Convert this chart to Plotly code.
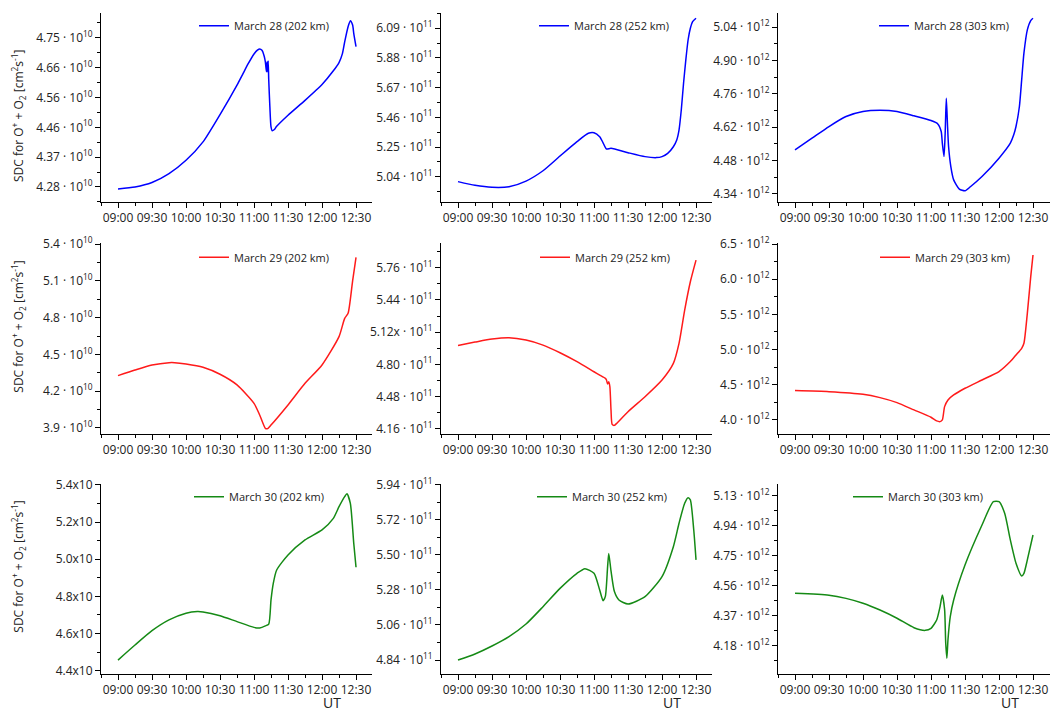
import plotly.graph_objects as go

W, H = 1050, 711

# ---------------- data (UT, SDC mantissa) ----------------
t_28_202 = ["09:00","09:15","09:30","09:45","10:00","10:15","10:30","10:45","10:50","10:55","11:00","11:03","11:05","11:07","11:09","11:10","11:11","11:11:30","11:12","11:12:30","11:13","11:14","11:15","11:16","11:18","11:20","11:30","11:45","12:00","12:10","12:15","12:18","12:20","12:23","12:25","12:27","12:28","12:30"]
v_28_202 = [4.274,4.280,4.294,4.322,4.364,4.422,4.508,4.601,4.635,4.669,4.699,4.711,4.715,4.711,4.692,4.674,4.643,4.674,4.643,4.677,4.616,4.532,4.469,4.457,4.461,4.471,4.506,4.553,4.603,4.646,4.672,4.700,4.737,4.785,4.804,4.790,4.764,4.722]

t_28_252 = ["09:00","09:15","09:30","09:45","10:00","10:15","10:30","10:45","10:55","11:00","11:05","11:08","11:11","11:15","11:30","11:45","11:55","12:00","12:05","12:10","12:13","12:15","12:17","12:19","12:21","12:23","12:25","12:27","12:30"]
v_28_252 = [5.005,4.979,4.965,4.969,5.009,5.082,5.186,5.288,5.347,5.351,5.323,5.280,5.236,5.241,5.210,5.182,5.175,5.182,5.205,5.252,5.300,5.370,5.512,5.701,5.866,6.007,6.090,6.137,6.161]

t_28_303 = ["09:00","09:15","09:30","09:45","10:00","10:15","10:30","10:45","11:00","11:06","11:09","11:10","11:11:30","11:12:30","11:13:30","11:14:30","11:15:30","11:17:30","11:20","11:25","11:30","11:35","11:45","12:00","12:10","12:13","12:15","12:18","12:20","12:22","12:25","12:28","12:30"]
v_28_303 = [4.525,4.574,4.623,4.665,4.686,4.691,4.686,4.668,4.648,4.634,4.602,4.553,4.497,4.595,4.742,4.637,4.539,4.455,4.399,4.360,4.353,4.371,4.413,4.490,4.553,4.588,4.623,4.707,4.819,4.931,5.029,5.068,5.078]

t_29_202 = ["09:00","09:15","09:30","09:45","09:50","10:00","10:15","10:30","10:45","11:00","11:05","11:10","11:12","11:15","11:30","11:45","12:00","12:15","12:20","12:23","12:27","12:30"]
v_29_202 = [4.327,4.373,4.414,4.433,4.433,4.422,4.395,4.338,4.251,4.101,4.006,3.897,3.895,3.924,4.088,4.264,4.414,4.645,4.794,4.835,5.100,5.291]

t_29_252 = ["09:00","09:15","09:30","09:45","10:00","10:15","10:30","10:45","11:00","11:05","11:10","11:11","11:12","11:13","11:14","11:15","11:16","11:18","11:20","11:30","11:45","12:00","12:10","12:15","12:20","12:25","12:30"]
v_29_252 = [4.988,5.021,5.051,5.064,5.041,4.991,4.915,4.826,4.726,4.693,4.660,4.644,4.604,4.627,4.577,4.345,4.203,4.193,4.213,4.329,4.478,4.644,4.809,5.008,5.339,5.621,5.836]

t_29_303 = ["09:00","09:30","10:00","10:15","10:30","10:45","11:00","11:05","11:08","11:10","11:12","11:15","11:20","11:30","11:45","12:00","12:10","12:15","12:20","12:22","12:25","12:28","12:30"]
v_29_303 = [4.417,4.402,4.365,4.317,4.246,4.142,4.038,3.986,3.976,4.000,4.189,4.284,4.355,4.450,4.568,4.687,4.829,4.923,5.018,5.089,5.515,6.036,6.344]

t_30_202 = ["09:00","09:15","09:30","09:45","10:00","10:10","10:15","10:30","10:45","11:00","11:05","11:10","11:13","11:15","11:17","11:20","11:30","11:45","12:00","12:10","12:15","12:20","12:22","12:25","12:28","12:30"]
v_30_202 = [4.457,4.538,4.615,4.673,4.709,4.718,4.716,4.696,4.664,4.633,4.630,4.641,4.651,4.781,4.870,4.942,5.023,5.104,5.158,5.220,5.283,5.337,5.352,5.301,5.086,4.957]

t_30_252 = ["09:00","09:15","09:30","09:45","10:00","10:15","10:30","10:45","10:52","11:00","11:05","11:08","11:10","11:12","11:13","11:15","11:18","11:22","11:30","11:45","12:00","12:10","12:15","12:20","12:23","12:25","12:28","12:30"]
v_30_252 = [4.840,4.878,4.928,4.987,5.066,5.175,5.290,5.385,5.414,5.385,5.280,5.213,5.240,5.427,5.510,5.400,5.270,5.217,5.192,5.238,5.364,5.552,5.699,5.825,5.860,5.846,5.657,5.469]

t_30_303 = ["09:00","09:30","09:45","10:00","10:15","10:30","10:45","10:55","11:00","11:05","11:08","11:10","11:12","11:13","11:14","11:15","11:17","11:20","11:30","11:45","11:55","12:00","12:05","12:10","12:15","12:20","12:22","12:25","12:30"]
v_30_303 = [4.512,4.500,4.480,4.449,4.406,4.354,4.294,4.277,4.290,4.343,4.428,4.502,4.410,4.195,4.100,4.220,4.364,4.470,4.692,4.946,5.094,5.094,5.020,4.851,4.703,4.622,4.639,4.724,4.882]

# tick labels
x_ticklabels = ["09:00","09:30","10:00","10:30","11:00","11:30","12:00","12:30"]
yt_28_202 = ["4.28","4.37","4.46","4.56","4.66","4.75"]
yt_28_252 = ["5.04","5.25","5.46","5.67","5.88","6.09"]
yt_28_303 = ["4.34","4.48","4.62","4.76","4.90","5.04"]
yt_29_202 = ["3.9","4.2","4.5","4.8","5.1","5.4"]
yt_29_252 = ["4.16","4.48","4.80","5.12x","5.44","5.76"]
yt_29_303 = ["4.0","4.5","5.0","5.5","6.0","6.5"]
yt_30_202 = ["4.4","4.6","4.8","5.0","5.2","5.4"]
yt_30_252 = ["4.84","5.06","5.28","5.50","5.72","5.94"]
yt_30_303 = ["4.18","4.37","4.56","4.75","4.94","5.13"]

legend_names = ["March 28 (202 km)","March 28 (252 km)","March 28 (303 km)",
                "March 29 (202 km)","March 29 (252 km)","March 29 (303 km)",
                "March 30 (202 km)","March 30 (252 km)","March 30 (303 km)"]

# ---------------- styling / layout ----------------
def mins(t):
    p = [int(s) for s in t.split(":")]
    return (p[0] - 9) * 60 + p[1] + (p[2] / 60 if len(p) > 2 else 0)

BLUE, RED, GREEN = "#0000ff", "#ff1a1a", "#158a15"
FONT = "Open Sans"

panels = [
    (t_28_202, v_28_202, 1e10, yt_28_202, 0.094, (4.2327, 4.829), BLUE, "·"),
    (t_28_252, v_28_252, 1e11, yt_28_252, 0.21, (4.861, 6.200), BLUE, "·"),
    (t_28_303, v_28_303, 1e12, yt_28_303, 0.14, (4.306, 5.101), BLUE, "·"),
    (t_29_202, v_29_202, 1e10, yt_29_202, 0.3, (3.851, 5.406), RED, "·"),
    (t_29_252, v_29_252, 1e11, yt_29_252, 0.32, (4.107, 6.003), RED, "·"),
    (t_29_303, v_29_303, 1e12, yt_29_303, 0.5, (3.80, 6.51), RED, "·"),
    (t_30_202, v_30_202, 1e10, yt_30_202, 0.2, (4.382, 5.405), GREEN, "x"),
    (t_30_252, v_30_252, 1e11, yt_30_252, 0.22, (4.752, 5.946), GREEN, "·"),
    (t_30_303, v_30_303, 1e12, yt_30_303, 0.19, (4.00, 5.206), GREEN, "·"),
]
exps = {1e10: "10", 1e11: "11", 1e12: "12"}

cols_px = [(101, 372), (441, 712), (778, 1050)]
rows_px = [(12.7, 202), (243.3, 434), (484, 674)]
xr = [(-15, 224.1), (-15, 224.1), (-15, 225)]
leg_px = [(200, 25.7), (540, 25.7), (880, 25.7),
          (200, 257.3), (541, 257.3), (881, 257.3),
          (195, 496.7), (538, 496.7), (854, 496.7)]

fig = go.Figure()
layout = dict(width=W, height=H, margin=dict(l=0, r=0, t=0, b=0, autoexpand=False),
              paper_bgcolor="white", plot_bgcolor="white",
              font=dict(family=FONT, size=12, color="#222"),
              showlegend=True)

tickfont = dict(family=FONT, size=12, color="#222")
for k, (ts, vs, sc, ytl, step, yrng, col, sep) in enumerate(panels):
    i = k + 1
    r, c = divmod(k, 3)
    x0, x1 = cols_px[c]
    yt0, yb0 = rows_px[r]
    xd = [x0 / W, min(x1 / W, 1.0)]
    yd = [1 - yb0 / H, 1 - yt0 / H]
    base = float(ytl[0].rstrip("x"))
    tv = [(base + j * step) * sc for j in range(len(ytl))]
    if sep == "x":
        tt = [s + "x10" for s in ytl]
    else:
        tt = [s + " · 10<sup>%s</sup>" % exps[sc] for s in ytl]
    xv = [mins(t) for t in ts]
    yv = [v * sc for v in vs]
    xs = "" if i == 1 else str(i)
    lg = "legend" + xs
    fig.add_trace(go.Scatter(x=xv, y=yv, mode="lines", name=legend_names[k],
                             line=dict(color=col, width=1.5, shape="spline", smoothing=0.6),
                             xaxis="x" + xs, yaxis="y" + xs, legend=lg, showlegend=True))
    common_x = dict(range=list(xr[c]), tickmode="array", tickvals=[j * 30 for j in range(8)],
                    ticktext=x_ticklabels, showline=True, linecolor="black", linewidth=1,
                    showgrid=False, zeroline=False, ticklen=5, tickcolor="black", tickwidth=1,
                    minor=dict(tickmode="linear", tick0=-15, dtick=15, ticklen=3,
                               tickcolor="black", ticks="outside"),
                    tickfont=tickfont, fixedrange=True, automargin=False,
                    ticklabeloverflow="allow")
    common_y = dict(range=[yrng[0] * sc, yrng[1] * sc], tickmode="array", tickvals=tv, ticktext=tt,
                    showline=True, linecolor="black", linewidth=1, showgrid=False, zeroline=False,
                    ticklen=5, tickcolor="black", tickwidth=1,
                    minor=dict(tickmode="linear", tick0=tv[0], dtick=step * sc / 2, ticklen=3,
                               tickcolor="black", ticks="outside"),
                    tickfont=tickfont, fixedrange=True, automargin=False,
                    ticklabeloverflow="allow")
    layout["xaxis" + xs] = dict(common_x, domain=xd, anchor="y" + xs, ticks="outside", side="bottom")
    layout["yaxis" + xs] = dict(common_y, domain=yd, anchor="x" + xs, ticks="outside", side="left")
    # mirrored top / right axes with inside ticks
    j = i + 9
    top = dict(common_x, overlaying="x" + xs, anchor="y" + xs, side="top", ticks="inside",
               showticklabels=False)
    top["minor"] = dict(top["minor"], ticks="inside")
    right = dict(common_y, overlaying="y" + xs, anchor="x" + xs, side="right", ticks="inside",
                 showticklabels=False)
    right["minor"] = dict(right["minor"], ticks="inside")
    layout["xaxis%d" % j] = top
    layout["yaxis%d" % j] = right
    lx, ly = leg_px[k]
    layout[lg] = dict(x=(lx - 6) / W, y=1 - ly / H, xanchor="left", yanchor="middle",
                      bgcolor="rgba(0,0,0,0)", borderwidth=0, itemwidth=30,
                      font=dict(family=FONT, size=11, color="#222"))

ann = []
ytitle = "SDC for O<sup>+</sup> + O<sub>2</sub> [cm<sup>2</sup>s<sup>-1</sup>]"
for yc in [116, 326.7, 566.7]:
    ann.append(dict(text=ytitle, x=19 / W, y=1 - yc / H, xref="paper", yref="paper",
                    textangle=-90, showarrow=False, font=dict(family=FONT, size=12, color="#222"),
                    xanchor="center", yanchor="middle"))
for xc in [332, 672, 1010]:
    ann.append(dict(text="UT", x=xc / W, y=1 - 702 / H, xref="paper", yref="paper",
                    showarrow=False, font=dict(family=FONT, size=14, color="#222"),
                    xanchor="center", yanchor="middle"))
layout["annotations"] = ann
fig.update_layout(layout)
fig.write_html("out.html", config={"displayModeBar": False},
               post_script="document.body.style.margin='0px';document.body.style.overflow='hidden';")
